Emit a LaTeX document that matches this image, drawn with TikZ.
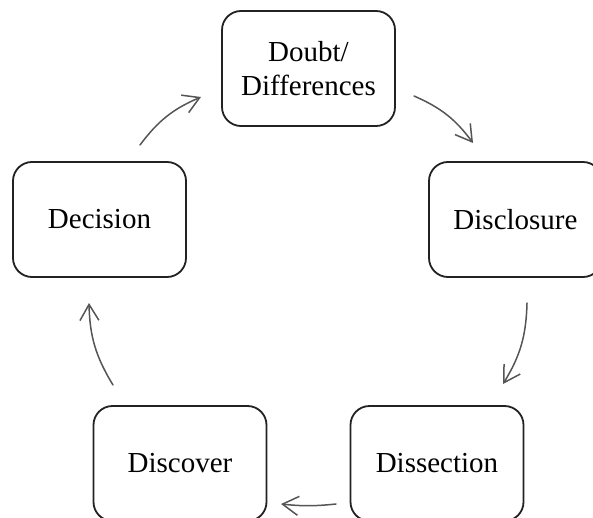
\documentclass[tikz,border=0pt]{standalone}
\usepackage{fontspec}
\setmainfont{Liberation Serif}
\usetikzlibrary{arrows.meta}
\definecolor{boxline}{HTML}{222222}
\definecolor{arrowline}{HTML}{555555}
\begin{document}
\begin{tikzpicture}[x=1pt,y=1pt,
  stagebox/.style={draw=boxline, line width=1.8pt, rounded corners=19pt,
    minimum width=173pt, minimum height=115pt, inner sep=0pt, outer sep=0pt,
    align=center, font=\fontsize{29}{34}\selectfont},
  flow/.style={draw=arrowline, line width=1.5pt, line cap=round,
    -{Straight Barb[length=16pt,width=19pt,line width=1.5pt]}}]
  \clip (0,0) rectangle (593,517);

  % the five stages of the cycle
  \node[stagebox] (doubt) at (308.5,448.5) {Doubt/\\Differences};
  \node[stagebox] (disc)  at (515.5,297.5) {Disclosure};
  \node[stagebox] (diss)  at (437,53.5)    {Dissection};
  \node[stagebox] (dscv)  at (180,53.5)    {Discover};
  \node[stagebox] (dec)   at (99.5,297.5)  {Decision};

  % free ends of the connecting arrows
  \coordinate (s1) at (140,372);  \coordinate (e1) at (201,420);
  \coordinate (s2) at (414,421);  \coordinate (e2) at (473,374);
  \coordinate (s3) at (527,214);  \coordinate (e3) at (503,133);
  \coordinate (s4) at (336,13);   \coordinate (e4) at (281,13);
  \coordinate (s5) at (113,132);  \coordinate (e5) at (89,214);

  % clockwise arrows between the stages
  \draw[flow] (s1) to[bend left=15] (e1);
  \draw[flow] (s2) to[bend left=15] (e2);
  \draw[flow] (s3) to[bend left=15] (e3);
  \draw[flow] (s4) to[bend left=6]  (e4);
  \draw[flow] (s5) to[bend left=15] (e5);
\end{tikzpicture}
\end{document}
